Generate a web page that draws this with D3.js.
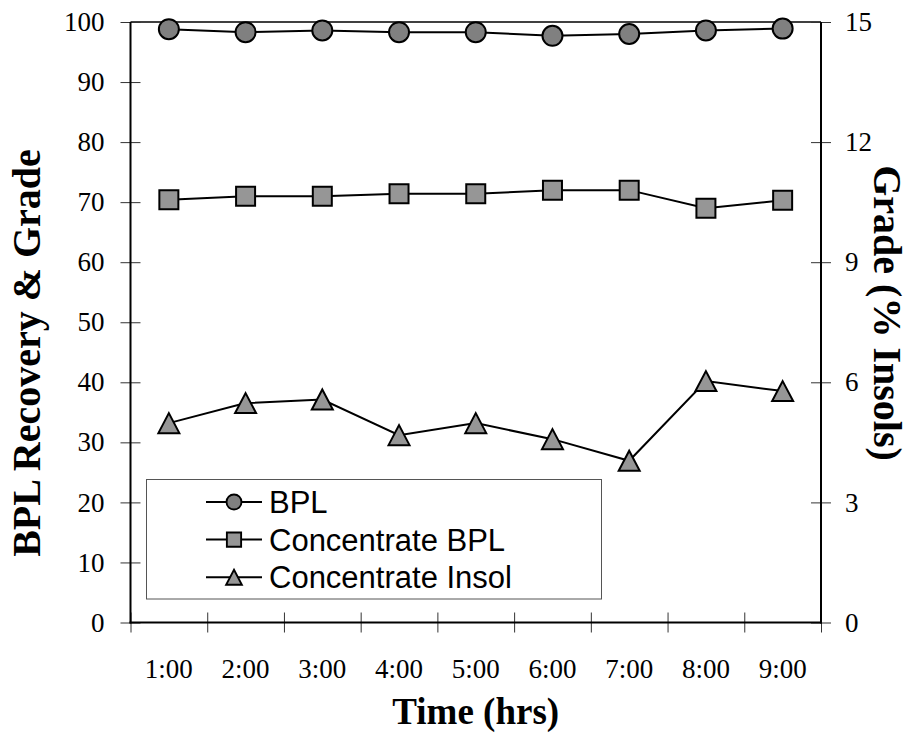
<!DOCTYPE html>
<html>
<head>
<meta charset="utf-8">
<script src="https://cdn.jsdelivr.net/npm/d3@7"></script>
<style>
  body { margin: 0; background: #fff; }
  svg { display: block; }
</style>
</head>
<body>
<svg id="chart"></svg>
<script>
var times = ["1:00", "2:00", "3:00", "4:00", "5:00", "6:00", "7:00", "8:00", "9:00"];
var bpl = [98.8, 98.3, 98.6, 98.3, 98.3, 97.7, 98.0, 98.6, 98.9];
var concBpl = [70.4, 71.0, 71.0, 71.4, 71.4, 72.0, 72.0, 69.0, 70.3];
var concInsol = [4.98, 5.48, 5.57, 4.68, 4.98, 4.58, 4.04, 6.03, 5.78];
var leftTicks = [0, 10, 20, 30, 40, 50, 60, 70, 80, 90, 100];
var rightTicks = [0, 3, 6, 9, 12, 15];

var w = 911, h = 734;
var pLeft = 130.5, pRight = 821, pTop = 22, pBottom = 622.5;

var svg = d3.select("#chart").attr("width", w).attr("height", h);

var x = d3.scaleBand().domain(times).range([pLeft, pRight]);
var xEdge = d3.scaleLinear().domain([0, times.length]).range([pLeft, pRight]);
var y = d3.scaleLinear().domain([0, 100]).range([pBottom, pTop]);
var y2 = d3.scaleLinear().domain([0, 15]).range([pBottom, pTop]);

function cx(d, i) { return x(times[i]) + x.bandwidth() / 2; }

// top border
svg.append("line")
  .attr("x1", pLeft).attr("x2", pRight)
  .attr("y1", pTop).attr("y2", pTop)
  .attr("stroke", "#000").attr("stroke-width", 1.5);

// left axis
var gl = svg.append("g")
  .attr("transform", "translate(" + pLeft + ",0)")
  .call(d3.axisLeft(y).tickValues(leftTicks).tickSize(10).tickPadding(16));
gl.select(".domain").remove();
gl.selectAll(".tick line").attr("x1", 10).attr("stroke", "#333").attr("stroke-width", 1);
gl.selectAll("text").attr("font-family", "Liberation Serif").attr("font-size", 27).attr("fill", "#000");

// right axis
var gr = svg.append("g")
  .attr("transform", "translate(" + pRight + ",0)")
  .call(d3.axisRight(y2).tickValues(rightTicks).tickSize(10).tickPadding(14));
gr.select(".domain").remove();
gr.selectAll(".tick line").attr("x1", -10).attr("stroke", "#333").attr("stroke-width", 1);
gr.selectAll("text").attr("font-family", "Liberation Serif").attr("font-size", 27).attr("fill", "#000");

// bottom tick marks at band edges
var gt = svg.append("g")
  .attr("transform", "translate(0," + pBottom + ")")
  .call(d3.axisBottom(xEdge).tickValues(d3.range(times.length + 1)).tickSize(10).tickFormat(""));
gt.select(".domain").remove();
gt.selectAll(".tick line").attr("y1", -10).attr("stroke", "#333").attr("stroke-width", 1);

// bottom labels
var gb = svg.append("g")
  .attr("transform", "translate(0," + pBottom + ")")
  .call(d3.axisBottom(x).tickSize(0).tickPadding(36));
gb.select(".domain").remove();
gb.selectAll("text").attr("font-family", "Liberation Serif").attr("font-size", 27).attr("fill", "#000");

// axis lines
svg.append("line").attr("x1", pLeft).attr("x2", pLeft).attr("y1", pTop).attr("y2", pBottom + 1)
  .attr("stroke", "#000").attr("stroke-width", 2);
svg.append("line").attr("x1", pRight).attr("x2", pRight).attr("y1", pTop).attr("y2", pBottom + 1)
  .attr("stroke", "#000").attr("stroke-width", 2);
svg.append("line").attr("x1", pLeft - 1).attr("x2", pRight + 1).attr("y1", pBottom).attr("y2", pBottom)
  .attr("stroke", "#000").attr("stroke-width", 2);

// titles
svg.append("text")
  .attr("transform", "translate(40,353) rotate(-90)")
  .attr("text-anchor", "middle")
  .attr("font-family", "Liberation Serif").attr("font-weight", "bold").attr("font-size", 40)
  .text("BPL Recovery & Grade");
svg.append("text")
  .attr("transform", "translate(874,313) rotate(90)")
  .attr("text-anchor", "middle")
  .attr("font-family", "Liberation Serif").attr("font-weight", "bold").attr("font-size", 40)
  .text("Grade (% Insols)");
svg.append("text")
  .attr("x", (pLeft + pRight) / 2).attr("y", 724)
  .attr("text-anchor", "middle")
  .attr("font-family", "Liberation Serif").attr("font-weight", "bold").attr("font-size", 37)
  .text("Time (hrs)");

// series
var line = d3.line().x(cx);

svg.append("path").datum(bpl)
  .attr("d", line.y(function(d) { return y(d); }))
  .attr("fill", "none").attr("stroke", "#000").attr("stroke-width", 2);
svg.append("path").datum(concBpl)
  .attr("d", line.y(function(d) { return y(d); }))
  .attr("fill", "none").attr("stroke", "#000").attr("stroke-width", 2);
svg.append("path").datum(concInsol)
  .attr("d", line.y(function(d) { return y2(d); }))
  .attr("fill", "none").attr("stroke", "#000").attr("stroke-width", 2);

var circleSym = d3.symbol().type(d3.symbolCircle).size(Math.PI * 10 * 10);
var squareSym = d3.symbol().type(d3.symbolSquare).size(19 * 19);
var triSym = "M0,-10L10.5,10L-10.5,10Z";

svg.append("g").selectAll("path").data(bpl).enter().append("path")
  .attr("d", circleSym)
  .attr("transform", function(d, i) { return "translate(" + cx(d, i) + "," + y(d) + ")"; })
  .attr("fill", "#808080").attr("stroke", "#000").attr("stroke-width", 2);
svg.append("g").selectAll("path").data(concBpl).enter().append("path")
  .attr("d", squareSym)
  .attr("transform", function(d, i) { return "translate(" + cx(d, i) + "," + y(d) + ")"; })
  .attr("fill", "#969696").attr("stroke", "#000").attr("stroke-width", 2);
svg.append("g").selectAll("path").data(concInsol).enter().append("path")
  .attr("d", triSym)
  .attr("transform", function(d, i) { return "translate(" + cx(d, i) + "," + y2(d) + ")"; })
  .attr("fill", "#969696").attr("stroke", "#000").attr("stroke-width", 2);

// legend
var legend = svg.append("g");
legend.append("rect")
  .attr("x", 146.5).attr("y", 479.5).attr("width", 455).attr("height", 119.5)
  .attr("fill", "#fff").attr("stroke", "#555").attr("stroke-width", 1);

var names = ["BPL", "Concentrate BPL", "Concentrate Insol"];
var syms = [circleSym(), squareSym(), triSym];
var fills = ["#808080", "#969696", "#969696"];
names.forEach(function(n, i) {
  var ly = 502 + i * 37.6;
  legend.append("line").attr("x1", 206).attr("x2", 262).attr("y1", ly).attr("y2", ly)
    .attr("stroke", "#000").attr("stroke-width", 2);
  legend.append("path").attr("d", syms[i])
    .attr("transform", "translate(234," + ly + ") scale(0.75)")
    .attr("fill", fills[i]).attr("stroke", "#000").attr("stroke-width", 2.5);
  legend.append("text")
    .attr("x", 269).attr("y", ly + 11)
    .attr("font-family", "Liberation Sans").attr("font-size", 31)
    .text(n);
});
</script>
</body>
</html>
